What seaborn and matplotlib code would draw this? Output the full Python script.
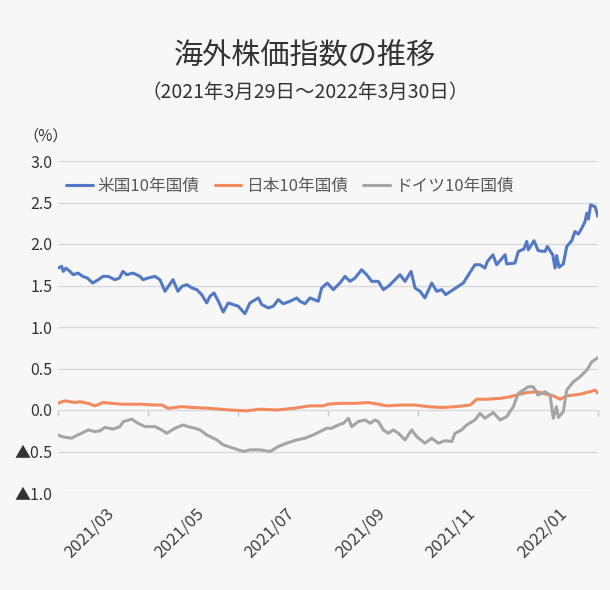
import numpy as np
import pandas as pd
import matplotlib
matplotlib.use('Agg')
import matplotlib.pyplot as plt
import matplotlib.dates as mdates
import seaborn as sns

# ---------------- data ----------------
start_date = '2021-03-29'
end_date = '2022-03-30'
series_names = ['米国10年国債', '日本10年国債', 'ドイツ10年国債']

# days after start_date, and yield (%)
us_day = [0, 2.5, 3.6, 5.4, 8.1, 10.4, 13.6, 16.7, 19.9, 23.5,
          27.3, 30.5, 33.9, 38.6, 41.6, 44.0, 46.6, 50.8, 55.6, 57.6,
          61.0, 65.7, 69.1, 72.5, 77.9, 81.3, 84.0, 87.4, 90.8, 94.0,
          97.4, 100.8, 103.0, 105.7, 108.7, 112.0, 115.4, 118.8, 122.2, 126.7,
          130.1, 135.8, 138.1, 142.5, 145.9, 149.3, 152.7, 157.3, 161.8, 164.0,
          167.4, 170.8, 176.4, 178.7, 182.5, 186.6, 191.1, 194.5, 197.9, 201.3,
          205.8, 209.2, 212.6, 217.1, 220.5, 223.9, 227.3, 231.8, 235.2, 239.3,
          242.0, 245.4, 248.7, 253.3, 256.7, 260.1, 262.8, 267.9, 271.3, 274.7,
          279.3, 282.6, 286.0, 289.4, 291.0, 294.8, 297.3, 303.0, 304.1, 309.7,
          312.0, 315.8, 317.7, 318.8, 322.6, 325.5, 330.1, 331.6, 335.3, 336.9,
          338.0, 339.6, 342.5, 344.8, 348.2, 350.4, 352.7, 355.0, 357.2, 358.4,
          359.5, 361.0, 364.0, 366.0]
us_yield = [1.71, 1.73, 1.67, 1.71, 1.67, 1.63, 1.65, 1.61, 1.59, 1.53,
            1.57, 1.61, 1.61, 1.57, 1.59, 1.67, 1.63, 1.65, 1.61, 1.57,
            1.59, 1.61, 1.57, 1.43, 1.57, 1.43, 1.49, 1.51, 1.47, 1.45,
            1.39, 1.29, 1.37, 1.41, 1.31, 1.18, 1.29, 1.27, 1.25, 1.16,
            1.29, 1.35, 1.27, 1.23, 1.25, 1.33, 1.28, 1.31, 1.35, 1.31,
            1.28, 1.35, 1.31, 1.47, 1.53, 1.45, 1.53, 1.61, 1.55, 1.59,
            1.69, 1.63, 1.55, 1.55, 1.45, 1.49, 1.55, 1.63, 1.55, 1.67,
            1.47, 1.43, 1.35, 1.53, 1.43, 1.45, 1.39, 1.45, 1.49, 1.53,
            1.66, 1.75, 1.75, 1.71, 1.79, 1.87, 1.75, 1.87, 1.76, 1.77,
            1.91, 1.94, 2.03, 1.93, 2.04, 1.92, 1.91, 1.97, 1.87, 1.71,
            1.86, 1.72, 1.76, 1.97, 2.04, 2.15, 2.12, 2.19, 2.27, 2.37,
            2.30, 2.47, 2.45, 2.33]

jp_day = [0, 2.7, 4.7, 8.1, 11.5, 14.9, 20.3, 25.1, 30.5, 36.6,
          43.2, 55.6, 65.7, 70.5, 74.6, 79.3, 83.8, 91.5, 103.0, 116.6,
          127.9, 136.9, 148.2, 159.5, 170.8, 179.8, 183.2, 190.0, 201.3, 210.3,
          217.1, 222.8, 232.9, 242.0, 251.0, 260.1, 269.1, 274.7, 279.3, 283.8,
          290.6, 299.6, 306.4, 313.1, 317.7, 324.5, 331.2, 335.7, 340.3, 344.8,
          353.8, 360.6, 364.0, 366.0]
jp_yield = [0.08, 0.10, 0.11, 0.10, 0.09, 0.10, 0.08, 0.05, 0.09, 0.08,
            0.07, 0.07, 0.06, 0.06, 0.02, 0.03, 0.04, 0.03, 0.02, 0.00,
            -0.01, 0.01, 0.00, 0.02, 0.05, 0.05, 0.07, 0.08, 0.08, 0.09,
            0.07, 0.05, 0.06, 0.06, 0.04, 0.03, 0.04, 0.05, 0.06, 0.13,
            0.13, 0.14, 0.16, 0.19, 0.21, 0.22, 0.19, 0.17, 0.13, 0.17,
            0.19, 0.22, 0.24, 0.20]

de_day = [0, 2.7, 5.4, 9.3, 12.2, 16.1, 20.5, 25.1, 28.5, 31.9,
          37.3, 42.0, 44.3, 50.0, 54.2, 59.0, 65.7, 70.3, 73.7, 79.3,
          84.9, 88.1, 92.8, 96.3, 100.8, 107.6, 112.0, 118.8, 125.6, 130.1,
          136.9, 143.7, 149.3, 155.0, 161.8, 167.4, 173.0, 177.6, 182.1, 185.5,
          190.0, 193.4, 196.8, 199.1, 203.5, 208.1, 211.5, 214.9, 217.1, 220.5,
          223.9, 227.3, 230.7, 235.2, 239.7, 243.1, 248.7, 253.3, 257.8, 262.3,
          266.9, 269.1, 273.6, 277.0, 282.6, 286.0, 289.4, 295.0, 299.6, 304.1,
          308.6, 312.0, 315.4, 318.8, 322.2, 325.3, 330.1, 333.5, 335.7, 337.8,
          339.2, 342.5, 344.8, 349.3, 353.8, 358.4, 361.8, 365.1, 366.0]
de_yield = [-0.30, -0.32, -0.33, -0.34, -0.31, -0.28, -0.24, -0.26, -0.25, -0.21,
            -0.23, -0.20, -0.14, -0.11, -0.16, -0.20, -0.20, -0.24, -0.28, -0.22,
            -0.18, -0.20, -0.22, -0.24, -0.30, -0.36, -0.42, -0.46, -0.50, -0.48,
            -0.48, -0.50, -0.44, -0.40, -0.36, -0.34, -0.30, -0.26, -0.22, -0.22,
            -0.18, -0.16, -0.10, -0.20, -0.14, -0.12, -0.16, -0.12, -0.14, -0.24,
            -0.28, -0.24, -0.28, -0.36, -0.24, -0.32, -0.40, -0.34, -0.40, -0.37,
            -0.38, -0.28, -0.24, -0.18, -0.12, -0.04, -0.10, -0.03, -0.12, -0.08,
            0.04, 0.20, 0.24, 0.28, 0.28, 0.18, 0.22, 0.18, -0.10, 0.04,
            -0.09, -0.02, 0.24, 0.34, 0.40, 0.48, 0.58, 0.62, 0.63]

x_tick_dates = ['2021-05-04', '2021-07-04', '2021-09-03', '2021-11-04', '2022-01-04', '2022-03-07']
x_tick_labels = ['2021/03', '2021/05', '2021/07', '2021/09', '2021/11', '2022/01']
zero_tick_dates = ['2021-03-29', '2021-05-29', '2021-07-29', '2021-09-28',
                   '2021-11-28', '2022-01-28', '2022-03-30']
y_ticks = [-1.0, -0.5, 0.0, 0.5, 1.0, 1.5, 2.0, 2.5, 3.0]

title = '海外株価指数の推移'
subtitle = '（2021年3月29日～2022年3月30日）'
unit_label = '（%）'

# ---------------- style ----------------
colors = ['#5479c4', '#f4895e', '#a5a5a5']
bg = '#f7f7f7'
sns.set_theme(style='white')
plt.rcParams['font.family'] = ['Noto Sans CJK JP', 'DejaVu Sans']

start = pd.Timestamp(start_date)
frames = []
for name, days, vals in [(series_names[0], us_day, us_yield),
                         (series_names[1], jp_day, jp_yield),
                         (series_names[2], de_day, de_yield)]:
    frames.append(pd.DataFrame({
        'date': start + pd.to_timedelta(np.array(days), unit='D'),
        'yield': vals,
        'series': name,
    }))
df = pd.concat(frames, ignore_index=True)

fig = plt.figure(figsize=(6.1, 5.9), dpi=100, facecolor=bg)
ax = fig.add_axes([58 / 610, 1 - 493 / 590, 540 / 610, 332 / 590])
ax.set_facecolor(bg)

sns.lineplot(data=df, x='date', y='yield', hue='series', hue_order=series_names,
             palette=dict(zip(series_names, colors)), estimator=None,
             linewidth=2.2, ax=ax)

ax.set_xlim(start, pd.Timestamp(end_date))
ax.set_ylim(-1.0, 3.0)
ax.set_xlabel('')
ax.set_ylabel('')
for s in ax.spines.values():
    s.set_visible(False)

ax.yaxis.grid(True, color='#d9d9d9', linewidth=1.0)
ax.xaxis.grid(False)
ax.set_axisbelow(True)

ax.set_yticks(y_ticks)
ax.set_yticklabels([('▲' + f'{abs(v):.1f}') if v < 0 else f'{v:.1f}' for v in y_ticks])
ax.tick_params(axis='y', length=0, pad=4, labelsize=11.5, labelcolor='#333333')

ax.set_xticks(pd.to_datetime(x_tick_dates))
ax.set_xticklabels(x_tick_labels, rotation=45, ha='right', va='center',
                   rotation_mode='anchor')
ax.tick_params(axis='x', length=0, pad=13, labelsize=12, labelcolor='#404040')

sec = ax.secondary_xaxis(0.25)
sec.set_xticks(mdates.date2num(pd.to_datetime(zero_tick_dates)))
sec.tick_params(axis='x', length=4, width=1, color='#c8c8c8', labelbottom=False,
                labeltop=False, direction='out')
for s in sec.spines.values():
    s.set_visible(False)

handles, labels = ax.get_legend_handles_labels()
leg = ax.legend(handles, labels, loc='center left', ncol=3, frameon=False,
                bbox_to_anchor=(66 / 610, 1 - 186 / 590), bbox_transform=fig.transFigure,
                borderpad=0, borderaxespad=0, handlelength=1.6, handletextpad=0.3,
                columnspacing=0.9, fontsize=12)
for t in leg.get_texts():
    t.set_color('#595959')

fig.text(0.5, 1 - 57 / 590, title, ha='center', va='center', fontsize=21, color='#333333')
fig.text(0.5, 1 - 92 / 590, subtitle, ha='center', va='center', fontsize=14, color='#333333')
fig.text(46 / 610, 1 - 136 / 590, unit_label, ha='center', va='center', fontsize=11,
         color='#333333')

fig.savefig('out.png', dpi=100, facecolor=bg)
